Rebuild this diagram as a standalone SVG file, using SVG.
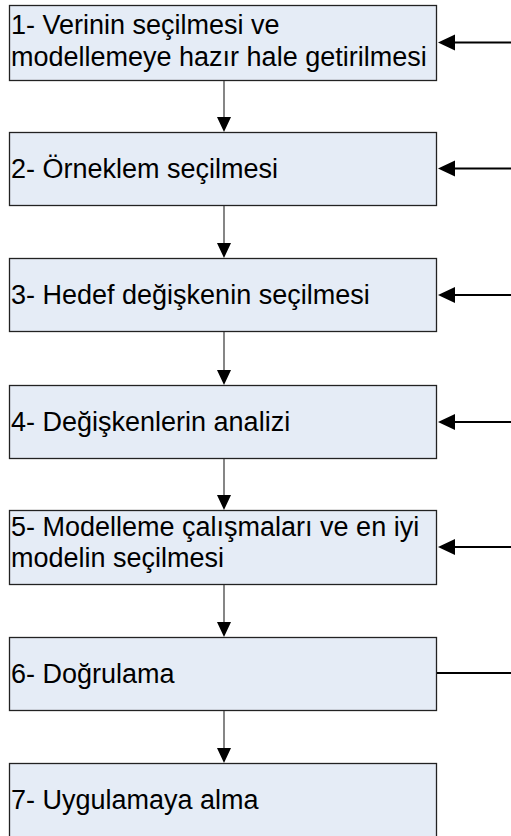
<svg xmlns="http://www.w3.org/2000/svg" width="511" height="836" viewBox="0 0 511 836">
<defs>
<style>
.box{fill:#e5ecf6;stroke:#222;stroke-width:1.3}
.t{font-family:"Liberation Sans",Arial,sans-serif;font-size:27px;fill:#000}
.down{stroke:#444;stroke-width:1.3;fill:none}
.side{stroke:#000;stroke-width:2;fill:none}
</style>
<marker id="ah" viewBox="0 0 14 15" refX="7" refY="15" markerWidth="14" markerHeight="15" markerUnits="userSpaceOnUse" orient="auto-start-reverse">
<path d="M0,0 L14,0 L7,15 Z" fill="#000"/>
</marker>
<marker id="sh" viewBox="0 0 17 16" refX="0" refY="8" markerWidth="17" markerHeight="16" markerUnits="userSpaceOnUse" orient="0">
<path d="M0,8 L17,0 L17,16 Z" fill="#000"/>
</marker>
</defs>
<g id="n1"><rect class="box" x="9.5" y="5.5" width="427" height="75"/><text class="t" x="11" y="34">1- Verinin seçilmesi ve</text><text class="t" x="11" y="66">modellemeye hazır hale getirilmesi</text></g>
<g id="n2"><rect class="box" x="9.5" y="132.5" width="427" height="73"/><text class="t" x="11" y="178">2- Örneklem seçilmesi</text></g>
<g id="n3"><rect class="box" x="9.5" y="258.5" width="427" height="73"/><text class="t" x="11" y="304">3- Hedef değişkenin seçilmesi</text></g>
<g id="n4"><rect class="box" x="9.5" y="385.5" width="427" height="73"/><text class="t" x="11" y="431">4- Değişkenlerin analizi</text></g>
<g id="n5"><rect class="box" x="9.5" y="510.5" width="427" height="74"/><text class="t" x="11" y="536">5- Modelleme çalışmaları ve en iyi</text><text class="t" x="11" y="567">modelin seçilmesi</text></g>
<g id="n6"><rect class="box" x="9.5" y="637.5" width="427" height="73"/><text class="t" x="11" y="683">6- Doğrulama</text></g>
<g id="n7"><rect class="box" x="9.5" y="763.5" width="427" height="76"/><text class="t" x="11" y="809">7- Uygulamaya alma</text></g>
<g id="connectors">
<line class="down" x1="224" y1="81" x2="224" y2="117"/><path d="M217,117 L231,117 L224,132 Z"/>
<line class="down" x1="224" y1="206" x2="224" y2="243"/><path d="M217,243 L231,243 L224,258 Z"/>
<line class="down" x1="224" y1="332" x2="224" y2="370"/><path d="M217,370 L231,370 L224,385 Z"/>
<line class="down" x1="224" y1="459" x2="224" y2="495"/><path d="M217,495 L231,495 L224,510 Z"/>
<line class="down" x1="224" y1="585" x2="224" y2="622"/><path d="M217,622 L231,622 L224,637 Z"/>
<line class="down" x1="224" y1="711" x2="224" y2="748"/><path d="M217,748 L231,748 L224,763 Z"/>
<line class="side" x1="511" y1="42.5" x2="455" y2="42.5"/><path d="M438,42.5 L455,34.5 L455,50.5 Z"/>
<line class="side" x1="511" y1="168.5" x2="455" y2="168.5"/><path d="M438,168.5 L455,160.5 L455,176.5 Z"/>
<line class="side" x1="511" y1="295" x2="455" y2="295"/><path d="M438,295 L455,287 L455,303 Z"/>
<line class="side" x1="511" y1="422" x2="455" y2="422"/><path d="M438,422 L455,414 L455,430 Z"/>
<line class="side" x1="511" y1="547" x2="455" y2="547"/><path d="M438,547 L455,539 L455,555 Z"/>
<line class="side" x1="511" y1="673" x2="437" y2="673"/>
</g>
</svg>
